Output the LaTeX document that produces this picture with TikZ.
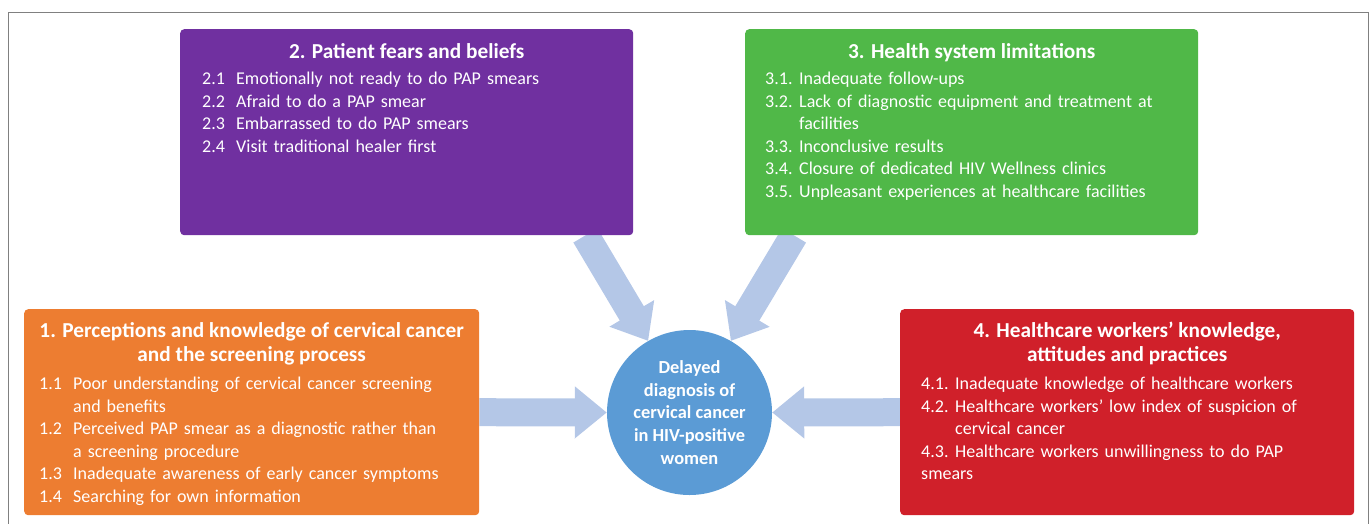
\documentclass[tikz,border=0pt]{standalone}
\usepackage{fontspec}
\setmainfont{Carlito}
\usetikzlibrary{calc,arrows.meta,backgrounds}

\definecolor{fearpurple}{HTML}{7030A0}
\definecolor{sysgreen}{HTML}{50B848}
\definecolor{knoworange}{HTML}{ED7D31}
\definecolor{workerred}{HTML}{D0202A}
\definecolor{delayblue}{HTML}{5B9BD5}
\definecolor{arrowblue}{HTML}{B4C7E7}

% one numbered item with hanging indent
\newcommand{\itm}[2]{\par\hangindent=34pt\hangafter=1\noindent\makebox[34pt][l]{#1}#2}

\begin{document}
\begin{tikzpicture}[x=1pt,y=-1pt,
    factorbox/.style={rounded corners=4pt, minimum width=454pt, minimum height=206pt, anchor=north west, inner sep=0pt},
    factorhead/.style={text=white, font=\fontsize{21.3}{24}\selectfont\bfseries, align=center, anchor=base, inner sep=0pt},
    factorlist/.style={text=white, font=\fontsize{18}{22.5}\selectfont, align=left, anchor=base west, inner sep=0pt, text width=440pt},
    bigarrow/.style={arrowblue, line width=28pt, -{Triangle[width=50pt,length=32pt]}}]

    \clip (0,0) rectangle (1372,523);

    % Outer frame
    \draw[gray, line width=1.5pt] (8.5,12.5) rectangle (1368.5,560);

    % Central outcome
    \node[circle, fill=delayblue, minimum size=165pt, inner sep=0pt, text=white,
          font=\fontsize{18.4}{22.7}\selectfont\bfseries, align=center] (delay) at (689.5,412.5)
        {Delayed\\diagnosis of\\cervical cancer\\in HIV-positive\\women};

    % 1. Perceptions and knowledge
    \node[factorbox, fill=knoworange, minimum width=455pt] (know) at (24,309) {};
    \node[factorhead] (know-head) at ($(know.north)+(0,52)$)
        {1. Perceptions and knowledge of cervical cancer\\and the screening process};
    \node[factorlist] (know-list) at ($(know.north west)+(15,58)$) {%
        \itm{1.1}{Poor understanding of cervical cancer screening\newline and benefits}
        \itm{1.2}{Perceived PAP smear as a diagnostic rather than\newline a screening procedure}
        \itm{1.3}{Inadequate awareness of early cancer symptoms}
        \itm{1.4}{Searching for own information}};

    % 2. Patient fears and beliefs
    \node[factorbox, fill=fearpurple, minimum width=453pt] (fear) at (180,29) {};
    \node[factorhead] (fear-head) at ($(fear.north)+(0,29)$) {2. Patient fears and beliefs};
    \node[factorlist] (fear-list) at ($(fear.north west)+(22,33)$) {%
        \itm{2.1}{Emotionally not ready to do PAP smears}
        \itm{2.2}{Afraid to do a PAP smear}
        \itm{2.3}{Embarrassed to do PAP smears}
        \itm{2.4}{Visit traditional healer first}};

    % 3. Health system limitations
    \node[factorbox, fill=sysgreen, minimum width=453pt] (sys) at (745,29) {};
    \node[factorhead] (sys-head) at ($(sys.north)+(0,29)$) {3. Health system limitations};
    \node[factorlist] (sys-list) at ($(sys.north west)+(20,33)$) {%
        \itm{3.1.}{Inadequate follow-ups}
        \itm{3.2.}{Lack of diagnostic equipment and treatment at\newline facilities}
        \itm{3.3.}{Inconclusive results}
        \itm{3.4.}{Closure of dedicated HIV Wellness clinics}
        \itm{3.5.}{Unpleasant experiences at healthcare facilities}};

    % 4. Healthcare workers
    \node[factorbox, fill=workerred] (work) at (900,309) {};
    \node[factorhead] (work-head) at ($(work.north)+(0,52)$)
        {4. Healthcare workers’ knowledge,\\attitudes and practices};
    \node[factorlist] (work-list) at ($(work.north west)+(21,58)$) {%
        \itm{4.1.}{Inadequate knowledge of healthcare workers}
        \itm{4.2.}{Healthcare workers’ low index of suspicion of\newline cervical cancer}
        \itm{4.3.}{Healthcare workers unwillingness to do PAP\newline smears}};

    % Block arrows into the outcome
    \begin{scope}[on background layer]
        \draw[bigarrow] (know.east) -- (delay.west);
        \draw[bigarrow] (work.west) -- (delay.east);
        \draw[bigarrow] ($(fear.south east)+(-48,0)$) -- (delay.120);
        \draw[bigarrow] ($(sys.south west)+(49,0)$) -- (delay.60);
    \end{scope}

\end{tikzpicture}
\end{document}
